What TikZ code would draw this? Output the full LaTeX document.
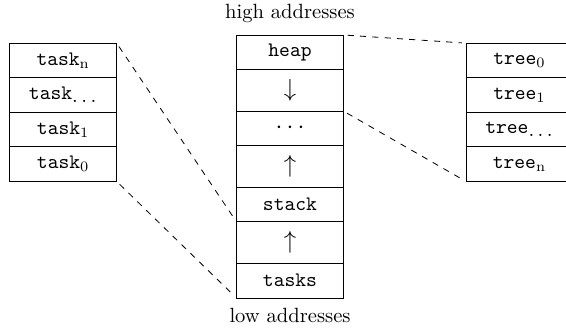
\documentclass[tikz,border=0pt]{standalone}
\usetikzlibrary{positioning}

\tikzset{
  cell/.style={draw, minimum width=52pt, minimum height=16.8pt,
               inner sep=0pt, outer sep=0pt, font=\ttfamily},
  arrowcell/.style={cell, minimum height=20.2pt, font=\large},
  guide/.style={dashed, shorten <=2pt, shorten >=2pt}
}
\newcommand{\subdots}{$_{\mbox{\normalfont.\kern1.7pt.\kern1.7pt.}}$}

\begin{document}
\begin{tikzpicture}[x=1pt,y=1pt]
    \useasboundingbox (0,0) rectangle (275,-158.9);

    % memory layout
    \node[cell] (heap) at (140.9,-25.4) {heap};
    \node[arrowcell, below=0pt of heap] (down) {$\downarrow$};
    \node[arrowcell, below=0pt of down, minimum height=16.8pt] (free) {$\cdots$};
    \node[arrowcell, below=0pt of free] (up1) {$\uparrow$};
    \node[cell, below=0pt of up1] (stack) {stack};
    \node[arrowcell, below=0pt of stack] (up2) {$\uparrow$};
    \node[cell, below=0pt of up2] (tasks) {tasks};

    \node[above=2.5pt of heap, inner sep=3.33pt] (high) {high addresses};
    \node[below=1.4pt of tasks, inner sep=3.33pt] (low) {low addresses};

    % task table
    \node[cell] (taskn) at (30.7,-29.35) {task$_{\mathrm{n}}$};
    \node[cell, below=0pt of taskn] (taskd) {task\subdots};
    \node[cell, below=0pt of taskd] (task1) {task$_{\mathrm{1}}$};
    \node[cell, below=0pt of task1] (task0) {task$_{\mathrm{0}}$};

    % tree table
    \node[cell] (tree0) at (252.4,-29.35) {tree$_{\mathrm{0}}$};
    \node[cell, below=0pt of tree0] (tree1) {tree$_{\mathrm{1}}$};
    \node[cell, below=0pt of tree1] (treed) {tree\subdots};
    \node[cell, below=0pt of treed] (treen) {tree$_{\mathrm{n}}$};

    \draw[guide] (taskn.north east) -- (stack.south west);
    \draw[guide] (task0.south east) -- (tasks.south west);
    \draw[guide] (heap.north east) -- (tree0.north west);
    \draw[guide] (down.south east) -- (treen.south west);
\end{tikzpicture}
\end{document}
